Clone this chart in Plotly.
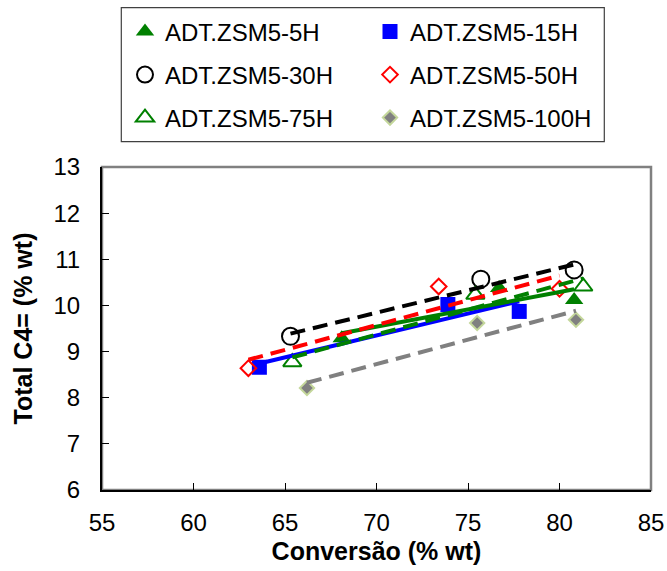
import numpy as np
import plotly.graph_objects as go

# Conversion (% wt) and total C4= (% wt) for each catalyst series
names = ["ADT.ZSM5-5H", "ADT.ZSM5-15H", "ADT.ZSM5-30H",
         "ADT.ZSM5-50H", "ADT.ZSM5-75H", "ADT.ZSM5-100H"]
conv_5h = [68.1, 76.7, 80.8]
c4_5h = [9.29, 10.38, 10.12]
conv_15h = [63.6, 73.9, 77.8]
c4_15h = [8.66, 10.02, 9.87]
conv_30h = [65.3, 75.7, 80.8]
c4_30h = [9.33, 10.57, 10.77]
conv_50h = [63.0, 73.4, 80.0]
c4_50h = [8.64, 10.41, 10.36]
conv_75h = [65.4, 75.4, 81.3]
c4_75h = [8.77, 10.23, 10.41]
conv_100h = [66.2, 75.5, 80.9]
c4_100h = [8.21, 9.62, 9.69]

x_ticks = [55, 60, 65, 70, 75, 80, 85]
y_ticks = [6, 7, 8, 9, 10, 11, 12, 13]

series = [
    (names[0], conv_5h, c4_5h,
     dict(symbol="triangle-up", size=16, color="#008000",
          line=dict(width=0)),
     dict(color="#008000", width=4, dash="solid")),
    (names[1], conv_15h, c4_15h,
     dict(symbol="square", size=15, color="#0000FF", line=dict(width=0)),
     dict(color="#0000FF", width=4, dash="solid")),
    (names[2], conv_30h, c4_30h,
     dict(symbol="circle-open", size=17, color="#000000",
          line=dict(width=2, color="#000000")),
     dict(color="#000000", width=4, dash="15px,8px")),
    (names[3], conv_50h, c4_50h,
     dict(symbol="diamond-open", size=12, color="#FF0000",
          line=dict(width=2, color="#FF0000")),
     dict(color="#FF0000", width=4, dash="15px,8px")),
    (names[4], conv_75h, c4_75h,
     dict(symbol="triangle-up-open", size=16, color="#008000",
          line=dict(width=2, color="#008000")),
     dict(color="#008000", width=4, dash="15px,8px")),
    (names[5], conv_100h, c4_100h,
     dict(symbol="diamond", size=11, color="#808080",
          line=dict(width=2, color="#C4D79B")),
     dict(color="#808080", width=4, dash="15px,8px")),
]

# two legend entries per row, one legend object per row
legend_ids = ["legend", "legend", "legend2", "legend2", "legend3", "legend3"]

fig = go.Figure()

# data markers
for k, (name, xs, ys, marker, _) in enumerate(series):
    fig.add_trace(go.Scatter(x=xs, y=ys, mode="markers", name=name,
                             marker=marker, showlegend=True,
                             legend=legend_ids[k]))

# linear trend lines over each series' conversion range
line_order = [1, 0, 4, 5, 3, 2]
for i in line_order:
    name, xs, ys, _, line = series[i]
    slope, intercept = np.polyfit(xs, ys, 1)
    xl = np.array([min(xs), max(xs)])
    fig.add_trace(go.Scatter(x=xl, y=slope * xl + intercept, mode="lines",
                             line=line, showlegend=False, hoverinfo="skip"))

W, H = 667, 571
ml, mr, mt, mb = 101.7, 16.3, 167.3, 81
pw, ph = W - ml - mr, H - mt - mb


def px_to_paper_x(px):
    return (px - ml) / pw


def px_to_paper_y(py):
    return (H - mb - py) / ph


def row_legend(row_y):
    return dict(
        orientation="h", xref="container", yref="container",
        x=125 / W, y=1 - row_y / H, xanchor="left", yanchor="middle",
        entrywidth=200, entrywidthmode="pixels",
        bgcolor="rgba(0,0,0,0)", borderwidth=0,
        font=dict(size=24), itemsizing="trace",
    )


fig.update_layout(
    width=W, height=H,
    margin=dict(l=ml, r=mr, t=mt, b=mb, pad=0, autoexpand=False),
    paper_bgcolor="white", plot_bgcolor="white",
    font=dict(family="Liberation Sans, Arial, sans-serif", size=24,
              color="#000000"),
    showlegend=True,
    legend=row_legend(32),
    legend2=row_legend(75),
    legend3=row_legend(118),
    shapes=[
        # plot area frame
        dict(type="rect", xref="x domain", yref="y domain",
             x0=0, x1=1, y0=0, y1=1, layer="below",
             line=dict(color="#808080", width=2.5)),
        # legend frame
        dict(type="rect", xref="paper", yref="paper",
             x0=px_to_paper_x(121), x1=px_to_paper_x(604),
             y0=px_to_paper_y(142), y1=px_to_paper_y(8), layer="below",
             line=dict(color="#404040", width=1.2)),
    ],
)

fig.update_xaxes(
    range=[55, 85], tickvals=x_ticks, ticktext=[str(v) for v in x_ticks],
    ticks="inside", ticklen=7, tickcolor="#000000", tickwidth=1,
    showline=True, linecolor="#000000", linewidth=2,
    showgrid=False, zeroline=False, ticklabelstandoff=10,
    title=dict(text="<b>Conversão (% wt)</b>", font=dict(size=25),
               standoff=8),
)
fig.update_yaxes(
    range=[6, 13], tickvals=y_ticks, ticktext=[str(v) for v in y_ticks],
    ticks="inside", ticklen=7, tickcolor="#000000", tickwidth=1,
    showline=True, linecolor="#000000", linewidth=2,
    showgrid=False, zeroline=False, ticklabelstandoff=15,
    title=dict(text="<b>Total C4= (% wt)</b>", font=dict(size=25),
               standoff=14),
)

fig.write_html("out.html")
